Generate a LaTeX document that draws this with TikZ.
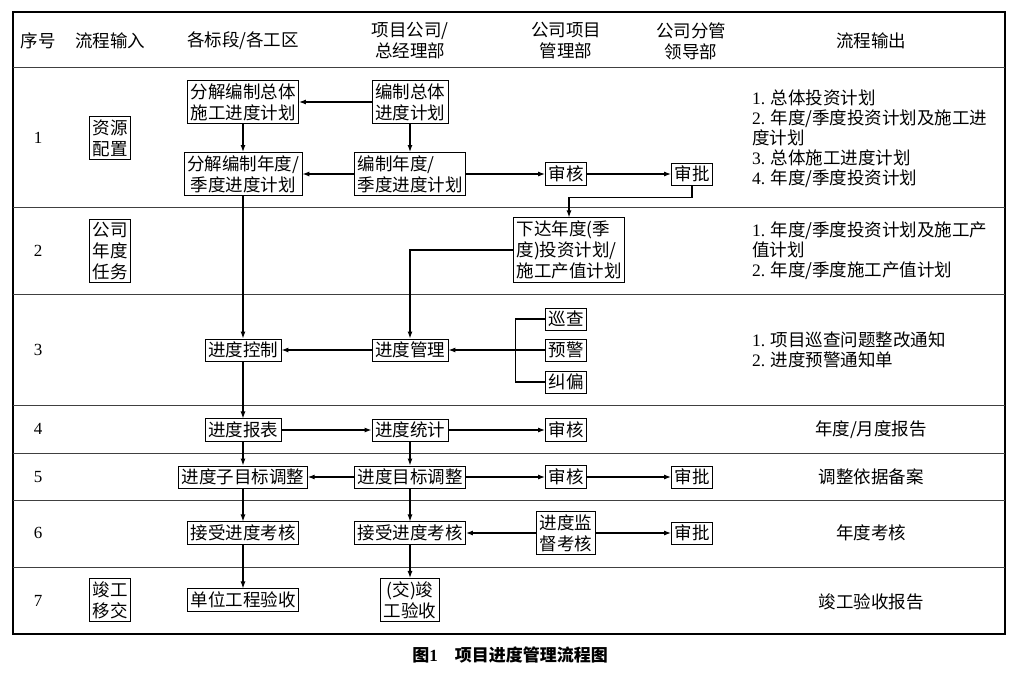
\documentclass[tikz,border=0pt]{standalone}
\usepackage{fontspec}
\usetikzlibrary{arrows.meta}
\setmainfont{Liberation Serif}
\newfontfamily\cjk{Noto Sans CJK SC}
\newcommand\lat[1]{{\rmfamily #1}}
\begin{document}
\begin{tikzpicture}[x=1pt,y=-1pt,>={Latex[length=7pt,width=5pt]},
  zh/.style={font=\cjk\fontsize{17.5}{21}\selectfont},
  box/.style={zh,draw,line width=0.8pt,inner sep=3pt,align=center},
  outtext/.style={zh,inner sep=0pt,align=left,anchor=west,font=\cjk\fontsize{17.5}{20}\selectfont},
  c/.style={->,line width=1.2pt}]

  \useasboundingbox (0,0) rectangle (1020,673);

  % frame and rows
  \draw[line width=1.8pt] (13,12) rectangle (1005,634);
  \foreach \y in {67,207,294,405,453,500,567} {
      \draw[line width=0.8pt,black!75] (13,\y) -- (1005,\y);
  }

  % header
  \node[zh] (hnum) at (38,41) {序号};
  \node[zh] (hin) at (110,41) {流程输入};
  \node[zh] (hsec) at (243,41) {各标段/各工区};
  \node[zh,align=center] (hgm) at (410,41) {项目公司/\\总经理部};
  \node[zh,align=center] (hpm) at (566,41) {公司项目\\管理部};
  \node[zh,align=center] (hld) at (691,41) {公司分管\\领导部};
  \node[zh] (hout) at (871,41) {流程输出};

  \foreach \y/\n in {138/1,251/2,350/3,429/4,477/5,533/6,601/7} {
      \node[font=\fontsize{17}{20}\selectfont] (r\n) at (38,\y) {\n};
  }

  % inputs
  \node[box] (zy) at (110,138) {资源\\配置};
  \node[box] (gsnd) at (110,251) {公司\\年度\\任务};
  \node[box] (jgyj) at (110,600) {竣工\\移交};

  % row 1
  \node[box] (fjzt) at (243,102) {分解编制总体\\施工进度计划};
  \node[box] (bzzt) at (410,102) {编制总体\\进度计划};
  \node[box] (fjnd) at (243,174) {分解编制年度/\\季度进度计划};
  \node[box,align=left] (bznd) at (410,174) {编制年度/\\季度进度计划};
  \node[box] (sh1) at (566,174) {审核};
  \node[box] (sp1) at (692,174) {审批};

  % row 2
  \node[box,align=left] (xd) at (569,250) {下达年度(季\\度)投资计划/\\施工产值计划};

  % row 3
  \node[box] (kz) at (243,350) {进度控制};
  \node[box] (gl) at (410,350) {进度管理};
  \node[box] (xc) at (566,319) {巡查};
  \node[box] (yj) at (566,350) {预警};
  \node[box] (jp) at (566,382) {纠偏};

  % row 4
  \node[box] (bb) at (243,430) {进度报表};
  \node[box] (tj) at (410,430) {进度统计};
  \node[box] (sh4) at (566,430) {审核};

  % row 5
  \node[box] (zmb) at (243,477) {进度子目标调整};
  \node[box] (mb) at (410,477) {进度目标调整};
  \node[box] (sh5) at (566,477) {审核};
  \node[box] (sp5) at (692,477) {审批};

  % row 6
  \node[box] (js1) at (243,533) {接受进度考核};
  \node[box] (js2) at (410,533) {接受进度考核};
  \node[box] (jd) at (566,533) {进度监\\督考核};
  \node[box] (sp6) at (692,533) {审批};

  % row 7
  \node[box] (dw) at (243,600) {单位工程验收};
  \node[box] (jg) at (410,600) {(交)竣\\工验收};

  % outputs
  \node[outtext] (o1) at (752,139) {\lat{1.} 总体投资计划\\\lat{2.} 年度/季度投资计划及施工进\\度计划\\\lat{3.} 总体施工进度计划\\\lat{4.} 年度/季度投资计划};
  \node[outtext] (o2) at (752,251) {\lat{1.} 年度/季度投资计划及施工产\\值计划\\\lat{2.} 年度/季度施工产值计划};
  \node[outtext] (o3) at (752,350) {\lat{1.} 项目巡查问题整改通知\\\lat{2.} 进度预警通知单};
  \node[zh] (o4) at (871,430) {年度/月度报告};
  \node[zh] (o5) at (871,477) {调整依据备案};
  \node[zh] (o6) at (871,533) {年度考核};
  \node[zh] (o7) at (871,602) {竣工验收报告};

  % connectors, row 1 and 2
  \draw[c] (bzzt) -- (fjzt);
  \draw[c] (bzzt) -- (bznd);
  \draw[c] (fjzt) -- (fjnd);
  \draw[c] (bznd) -- (fjnd);
  \draw[c] (bznd) -- (sh1);
  \draw[c] (sh1) -- (sp1);
  \draw[c] (sp1.south) -- ++(0,12) -| (xd.north);
  \draw[c] (xd.west) -| (gl.north);
  \draw[c] (fjnd) -- (kz);

  % row 3
  \draw[line width=1.2pt] (xc.west) -- ++(-30,0) |- (jp.west);
  \draw[c] (yj) -- (gl);
  \draw[c] (gl) -- (kz);

  % rows 4 to 7
  \draw[c] (kz) -- (bb);
  \draw[c] (bb) -- (tj);
  \draw[c] (tj) -- (sh4);
  \draw[c] (bb) -- (zmb);
  \draw[c] (tj) -- (mb);
  \draw[c] (mb) -- (zmb);
  \draw[c] (mb) -- (sh5);
  \draw[c] (sh5) -- (sp5);
  \draw[c] (zmb) -- (js1);
  \draw[c] (mb) -- (js2);
  \draw[c] (jd) -- (js2);
  \draw[c] (jd) -- (sp6);
  \draw[c] (js1) -- (dw);
  \draw[c] (js2) -- (jg);

  % caption
  \node[zh,font=\cjk\bfseries\fontsize{17}{20}\selectfont] (cap) at (510,655) {图\lat{\bfseries 1}\hspace{1em}项目进度管理流程图};

\end{tikzpicture}
\end{document}
